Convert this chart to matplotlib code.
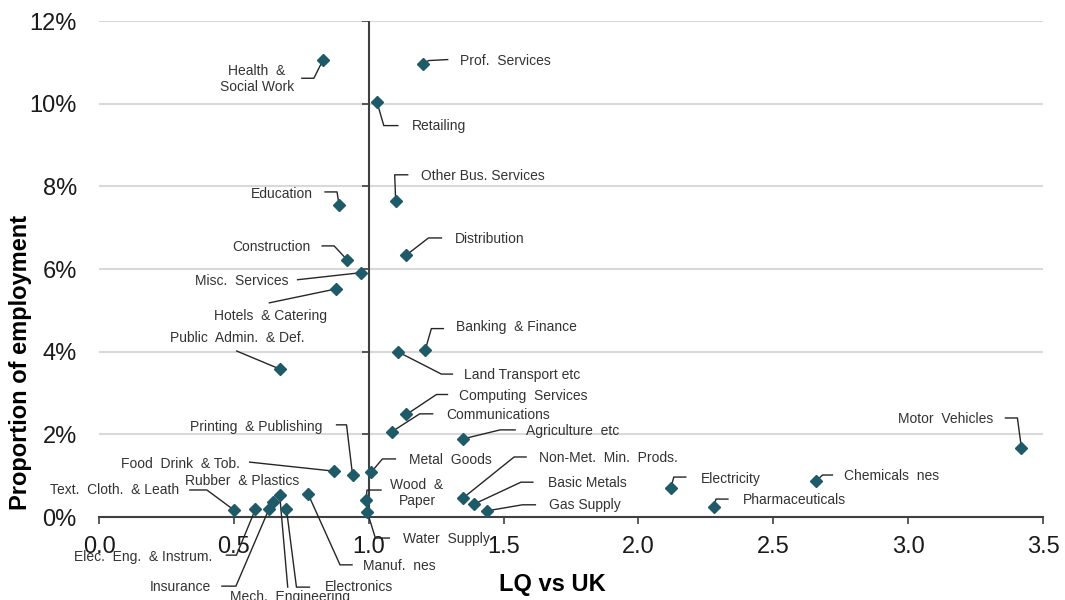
import matplotlib
matplotlib.use("Agg")
import matplotlib.pyplot as plt
from matplotlib.markers import TICKLEFT

plt.rcParams['font.family'] = ['Liberation Sans', 'DejaVu Sans']

# sector, location quotient vs UK, share of employment (%)
sectors = [
    "Health  &\nSocial Work", "Prof.  Services", "Retailing", "Education",
    "Other Bus. Services", "Construction", "Distribution", "Misc.  Services",
    "Hotels  & Catering", "Banking  & Finance", "Land Transport etc",
    "Public  Admin.  & Def.", "Computing  Services", "Communications",
    "Agriculture  etc", "Printing  & Publishing", "Food  Drink  & Tob.",
    "Metal  Goods", "Motor  Vehicles", "Chemicals  nes", "Electricity",
    "Pharmaceuticals", "Non-Met.  Min.  Prods.", "Basic Metals", "Gas Supply",
    "Wood  &\nPaper", "Water  Supply", "Text.  Cloth.  & Leath",
    "Elec.  Eng.  & Instrum.", "Insurance", "Rubber  & Plastics",
    "Mech.  Engineering", "Electronics", "Manuf.  nes",
]
lq = [0.83, 1.20, 1.03, 0.89, 1.10, 0.92, 1.14, 0.97, 0.88, 1.21, 1.11, 0.67,
      1.14, 1.085, 1.35, 0.94, 0.87, 1.01, 3.42, 2.66, 2.12, 2.28, 1.35, 1.39,
      1.44, 0.99, 0.995, 0.50, 0.58, 0.63, 0.645, 0.67, 0.695, 0.775]
share = [11.05, 10.97, 10.05, 7.55, 7.65, 6.22, 6.34, 5.91, 5.52, 4.05, 3.99,
         3.58, 2.48, 2.06, 1.89, 1.02, 1.11, 1.09, 1.67, 0.87, 0.70, 0.24,
         0.46, 0.31, 0.15, 0.41, 0.12, 0.17, 0.19, 0.19, 0.37, 0.53, 0.19,
         0.56]

x_ticks = [0.0, 0.5, 1.0, 1.5, 2.0, 2.5, 3.0, 3.5]
y_ticks = [0, 2, 4, 6, 8, 10, 12]

# label placement in pixels from the marker (y down): text anchor, alignment,
# and the leader line vertices
label_pos = [
    ((-66, 19), 'center', [(0, 0), (-9, 18), (-21, 18)]),
    ((37, -3), 'left', [(0, 0), (6, -3), (25, -4)]),
    ((35, 24), 'left', [(0, 0), (7, 24), (21, 24)]),
    ((-26, -11), 'right', [(0, 0), (-2, -13), (-14, -13)]),
    ((25, -25), 'left', [(0, 0), (-1, -26), (12, -26)]),
    ((-37, -13), 'right', [(0, 0), (-13, -14), (-25, -14)]),
    ((48, -16), 'left', [(0, 0), (22, -17), (35, -17)]),
    ((-72, 8), 'right', [(0, 0), (-63, 7)]),
    ((-66, 27), 'center', [(0, 0), (-67, 14)]),
    ((31, -23), 'left', [(0, 0), (6, -21), (18, -21)]),
    ((66, 23), 'left', [(0, 0), (43, 22), (54, 22)]),
    ((-42, -31), 'center', [(0, 0), (-43, -18)]),
    ((53, -18), 'left', [(0, 0), (30, -20), (41, -20)]),
    ((55, -17), 'left', [(0, 0), (28, -18), (41, -18)]),
    ((63, -8), 'left', [(0, 0), (37, -9), (52, -9)]),
    ((-30, -48), 'right', [(0, 0), (-6, -50), (-16, -50)]),
    ((-94, -7), 'right', [(0, 0), (-84, -9)]),
    ((38, -12), 'left', [(0, 0), (11, -13), (24, -13)]),
    ((-28, -29), 'right', [(0, 0), (-4, -30), (-16, -30)]),
    ((28, -5), 'left', [(0, 0), (6, -6), (16, -6)]),
    ((30, -9), 'left', [(0, 0), (3, -11), (15, -11)]),
    ((29, -7), 'left', [(0, 0), (2, -8), (14, -8)]),
    ((76, -40), 'left', [(0, 0), (51, -41), (63, -41)]),
    ((74, -21), 'left', [(0, 0), (47, -22), (59, -22)]),
    ((62, -6), 'left', [(0, 0), (35, -6), (48, -6)]),
    ((51, -7), 'center', [(0, 0), (1, -10), (15, -10)]),
    ((36, 27), 'left', [(0, 0), (8, 26), (22, 26)]),
    ((-55, -20), 'right', [(0, 0), (-27, -20), (-44, -20)]),
    ((-43, 48), 'right', [(0, 0), (-19, 46), (-29, 46)]),
    ((-58, 78), 'right', [(0, 0), (-33, 77), (-47, 77)]),
    ((-31, -21), 'center', None),
    ((10, 102), 'center', [(0, 0), (8, 92)]),
    ((38, 78), 'left', [(0, 0), (10, 78), (23, 78)]),
    ((55, 72), 'left', [(0, 0), (32, 71), (44, 71)]),
]

W, H = 1065, 600
fig = plt.figure(figsize=(W / 100, H / 100), dpi=100)
ax = fig.add_axes([99 / W, 1 - 517 / H, (1043 - 99) / W, (517 - 21) / H])

ax.set_xlim(0, 3.5)
ax.set_ylim(0, 12)
ax.grid(axis='y', color='#d9d9d9', linewidth=1.5)
ax.set_axisbelow(True)

for s in ['top', 'right', 'left']:
    ax.spines[s].set_visible(False)
ax.spines['bottom'].set_color('#404040')
ax.spines['bottom'].set_linewidth(1.5)

ax.set_xticks(x_ticks)
ax.set_xticklabels(['%.1f' % v for v in x_ticks])
ax.set_yticks(y_ticks)
ax.set_yticklabels(['%d%%' % v for v in y_ticks])
ax.tick_params(axis='x', direction='out', length=5, width=1.2, color='#404040',
               pad=9, labelsize=17, labelcolor='#1a1a1a')
ax.tick_params(axis='y', length=0, pad=16, labelsize=17, labelcolor='#1a1a1a')

# vertical axis crosses at LQ = 1
ax.plot([1.0, 1.0], [0, 12], color='#404040', linewidth=1.5, zorder=2)
ax.plot([1.0] * len(y_ticks), y_ticks, linestyle='none', marker=TICKLEFT,
        markersize=5, markeredgewidth=1.2, color='#404040', zorder=2)

ax.plot(lq, share, linestyle='none', marker='D', markersize=6.3,
        color='#1f5a69', zorder=4, clip_on=False)

to_px = ax.transData
to_data = ax.transData.inverted()
for name, x, y, (txt, ha, leader) in zip(sectors, lq, share, label_pos):
    px, py = to_px.transform((x, y))
    if leader:
        pts = [to_data.transform((px + dx, py - dy)) for dx, dy in leader]
        ax.plot([p[0] for p in pts], [p[1] for p in pts], color='#262626',
                linewidth=1.0, clip_on=False, zorder=3)
    tx, ty = to_data.transform((px + txt[0], py - txt[1]))
    ax.text(tx, ty, name, ha=ha, va='center', fontsize=10, color='#333333',
            multialignment='center', linespacing=1.15, clip_on=False)

fig.text(21 / W, 1 - 362 / H, 'Proportion of employment', rotation=90,
         ha='center', va='center', fontsize=17, fontweight='bold')
fig.text(552 / W, 1 - 584 / H, 'LQ vs UK', ha='center', va='center',
         fontsize=17, fontweight='bold')

fig.savefig('out.png', dpi=100)
